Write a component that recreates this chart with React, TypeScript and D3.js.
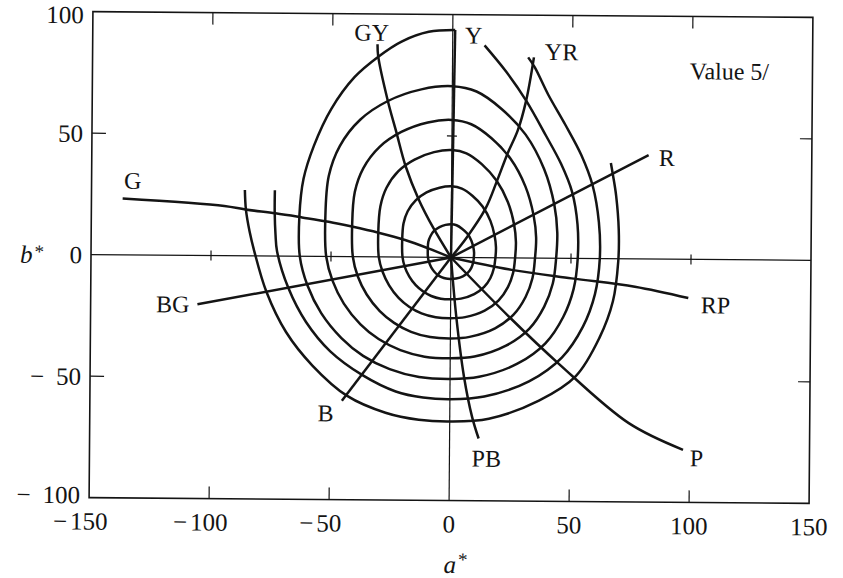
import React from "react";
import * as d3 from "d3";

type Pt = [number, number];

// ---- axis ticks ----
const xTickValues = [-150, -100, -50, 0, 50, 100, 150];
const yTickValues = [-100, -50, 0, 50, 100];
const frameTicksA = [-100, -50, 50, 100];
const frameTicksB = [-50, 50];

// ---- Munsell hue spokes (a*, b*) ----
const hueNames = ["Y", "YR", "R", "RP", "P", "PB", "B", "BG", "G", "GY"];
const spokeY: Pt[] = [[0, 0], [1, 93.6]];
const spokeYR: Pt[] = [[0, 0], [6.5, 8.3], [14.2, 20.2], [19, 31.9], [23.2, 42.9], [27.4, 52.5], [30.8, 64.8], [33.9, 82.6]];
const spokeR: Pt[] = [[0, 0], [82, 42.8]];
const spokeRP: Pt[] = [[0, 0], [25.3, -4.9], [50.3, -8.2], [76.7, -11.4], [99, -15.9]];
const spokeP: Pt[] = [[0, 0], [24.6, -24.4], [45.4, -43.5], [74.6, -67.6], [97.3, -78.4]];
const spokePB: Pt[] = [[0, 0], [2.4, -24.4], [5.8, -49], [9.3, -65.5], [12.1, -74.4]];
const spokeB: Pt[] = [[0, 0], [-45, -59.3]];
const spokeBG: Pt[] = [[0, 0], [-105.5, -20.1]];
const spokeG: Pt[] = [[0, 0], [-9.5, 3.7], [-19.2, 7.05], [-30.3, 9.96], [-41.4, 12.4], [-51.1, 14.3], [-62.2, 16], [-73.3, 17.6], [-85.8, 19.1], [-94.6, 20.5], [-137, 23.2]];
const spokeGY: Pt[] = [[0, 0], [-7.4, 12], [-13.6, 23.7], [-19.2, 37.4], [-23.3, 51.8], [-26.8, 64.1], [-31, 82.6], [-31.3, 87.5]];
const hueSpokes: Pt[][] = [spokeY, spokeYR, spokeR, spokeRP, spokeP, spokePB, spokeB, spokeBG, spokeG, spokeGY];

// ---- chroma loci (a*, b*), read counter-clockwise ----
const ring1: Pt[] = [[0, 13.7], [-2.4, 13.4], [-4.9, 12.5], [-7.1, 11], [-8.6, 8.8], [-9.5, 6.4], [-9.7, 3], [-9.6, 0], [-9.1, -2.1], [-8.2, -4.1], [-6.9, -5.9], [-5.5, -7.2], [-3.9, -8.1], [-2, -8.7], [0, -8.8], [2.2, -8.6], [5, -7.7], [7.1, -6.2], [8.5, -4.2], [9.2, -2.2], [9.5, 0], [9.6, 2.1], [9.3, 4.2], [8.4, 7.1], [6.7, 9.9], [4.5, 11.9], [2.2, 13.3]];
const ring2: Pt[] = [[0, 29.3], [-5, 28.7], [-10.4, 26.7], [-14.9, 23.4], [-18.2, 18.9], [-19.9, 13.8], [-20.4, 6.4], [-20.2, 0], [-19.2, -4.1], [-17.3, -8], [-14.6, -11.5], [-11.6, -14], [-8.1, -15.9], [-4.1, -17], [0, -17.2], [4.3, -16.9], [9.8, -15], [13.9, -12], [16.5, -8.3], [17.9, -4.3], [18.5, 0], [18.7, 4.4], [18.1, 9.1], [16.3, 15.2], [13, 21.1], [8.7, 25.5], [4.3, 28.4]];
const ring3: Pt[] = [[0, 44.2], [-7.4, 43.3], [-15.5, 40.2], [-22.2, 35.4], [-27.1, 28.5], [-29.6, 20.8], [-30.4, 9.7], [-30.1, 0], [-28.5, -6], [-25.7, -11.65], [-21.7, -16.8], [-17.3, -20.4], [-12.1, -23.1], [-6.2, -24.65], [0, -25], [6.1, -24.5], [14.2, -21.75], [20, -17.5], [23.8, -12], [25.9, -6.25], [26.7, 0], [27, 6.6], [26.2, 13.7], [23.5, 23], [18.7, 31.8], [12.5, 38.5], [6.1, 42.9]];
const ring4: Pt[] = [[0, 56.6], [-10.1, 55.5], [-21.1, 51.5], [-30.1, 45.3], [-36.8, 36.5], [-40.3, 26.6], [-41.3, 12.5], [-40.9, 0], [-38.8, -8], [-35, -15.5], [-29.5, -22.3], [-23.5, -27.1], [-16.4, -30.7], [-8.4, -32.8], [0, -33.3], [8, -32.6], [18.6, -29], [26.25, -23.3], [31.2, -16], [34, -8.3], [35, 0], [35.4, 8.5], [34.3, 17.5], [30.8, 29.4], [24.5, 40.8], [16.5, 49.2], [8, 54.9]];
const ring5: Pt[] = [[0, 70.5], [-12.9, 69.1], [-26.8, 64.2], [-38.3, 56.4], [-46.7, 45.5], [-51.2, 33.1], [-52.5, 15.5], [-52, 0], [-49.3, -9.9], [-44.5, -19.3], [-37.5, -27.8], [-29.9, -33.8], [-20.8, -38.3], [-10.7, -40.9], [0, -41.5], [10.1, -40.7], [23.2, -36.1], [32.9, -29], [39, -19.9], [42.5, -10.4], [43.8, 0], [44.2, 10.6], [42.9, 21.9], [38.5, 36.7], [30.7, 50.8], [20.6, 61.3], [10.1, 68.4]];
const ring6: Pt[] = [[1, 93.6], [-10, 92.8], [-21.3, 88.7], [-30.8, 82.5], [-40.8, 73.9], [-50.4, 60.7], [-57.5, 45.5], [-61.7, 31.9], [-63.3, 16.7], [-63, 0], [-59.7, -12], [-53.9, -23.3], [-45.4, -33.5], [-36.3, -40.75], [-25.2, -46.15], [-12.9, -49.3], [0, -50], [12.1, -49], [28, -43.5], [39.6, -35], [47, -24], [51.2, -12.5], [52.8, 0], [52.6, 14], [50.2, 27.5], [45.5, 39], [39.2, 50.4], [30.8, 64.8], [22.5, 76.5], [13.3, 87.4]];
const ring7: Pt[] = [[-73.6, 27.1], [-73.6, 18], [-73.2, 9], [-72.5, 2], [-67.7, -13], [-60.2, -27], [-50, -39], [-36.5, -48.7], [-22.6, -55.3], [-11.2, -57.7], [0, -58.3], [14.3, -57.1], [32.9, -50.7], [46.5, -40.8], [55.2, -28], [60.1, -14.6], [62, 0], [61.5, 15], [58.8, 30], [54, 42.5], [47.2, 55], [40, 67.3], [34.3, 78.5], [31.5, 82.6]];
const ring8: Pt[] = [[-86.1, 27.1], [-85.6, 19], [-84, 10], [-82, 2], [-76.8, -14.7], [-68.5, -31.2], [-57.4, -44.9], [-42.8, -57.3], [-26.8, -64.1], [-12.9, -66.9], [0, -67.5], [16.3, -66.2], [37.1, -58.6], [52.4, -48.4], [62.1, -32.6], [67.6, -17.5], [69.7, -1], [69.8, 12], [68.6, 26], [67.2, 34.5], [66.3, 39.4]];
const closedRings: Pt[][] = [ring1, ring2, ring3, ring4, ring5];
const openRings: Pt[][] = [ring6, ring7, ring8];

// label anchors (a*, b*) for hue names
const hueLabelA = [8.75, 45.4, 89.6, 110.4, 102.9, 15.4, -51.7, -115.8, -132.9, -33.75];
const hueLabelB = [91.6, 85, 41.8, -18.7, -81.7, -82.5, -64.4, -20, 30.7, 92.4];
const titleText = "Value 5/";
const titleAnchor: Pt = [115.4, 77.6];

export default function App() {
  const W = 843;
  const H = 578;
  const x = d3.scaleLinear().domain([-150, 150]).range([91, 811]);
  const y = d3.scaleLinear().domain([-100, 100]).range([500.5, 14.5]);
  const smooth = d3.line<Pt>().x((d) => x(d[0])).y((d) => y(d[1])).curve(d3.curveCatmullRom.alpha(0.5));
  const closed = d3.line<Pt>().x((d) => x(d[0])).y((d) => y(d[1])).curve(d3.curveCatmullRomClosed.alpha(0.5));
  const ink = "#141414";
  const fs = 25;
  const x0 = x(-150), x1 = x(150), yT = y(100), yB = y(-100);

  return (
    <svg width={W} height={H} style={{ position: "absolute", left: 0, top: 0, background: "#fff" }}
      fontFamily="'Liberation Serif', 'Times New Roman', serif">
      <rect x={0} y={0} width={W} height={H} fill="#fff" />
      <g transform={`rotate(0.45 ${x(0)} ${y(0)})`}>
        {/* frame */}
        <rect x={x0} y={yT} width={x1 - x0} height={yB - yT} fill="none" stroke={ink} strokeWidth={1.6} />
        {/* centre axes */}
        <line x1={x0} x2={x1} y1={y(0)} y2={y(0)} stroke={ink} strokeWidth={1.2} />
        <line x1={x(0)} x2={x(0)} y1={yT} y2={yB} stroke={ink} strokeWidth={1.2} />
        {/* ticks */}
        {frameTicksA.map((v) => (
          <g key={"ta" + v}>
            <line x1={x(v)} x2={x(v)} y1={yT} y2={yT + 12} stroke={ink} strokeWidth={1.2} />
            <line x1={x(v)} x2={x(v)} y1={yB} y2={yB - 12} stroke={ink} strokeWidth={1.2} />
            <line x1={x(v)} x2={x(v)} y1={y(0) - 5} y2={y(0) + 5} stroke={ink} strokeWidth={1.2} />
          </g>
        ))}
        {frameTicksB.map((v) => (
          <g key={"tb" + v}>
            <line x1={x0} x2={x0 + 14} y1={y(v)} y2={y(v)} stroke={ink} strokeWidth={1.2} />
            <line x1={x1} x2={x1 - 12} y1={y(v)} y2={y(v)} stroke={ink} strokeWidth={1.2} />
            <line x1={x(0) - 5} x2={x(0) + 5} y1={y(v)} y2={y(v)} stroke={ink} strokeWidth={1.2} />
          </g>
        ))}
        {/* tick labels */}
        {xTickValues.map((v) => {
          const digits = String(Math.abs(v));
          const half = digits.length * fs * 0.25;
          return (
            <g key={"xl" + v} fill={ink} fontSize={fs}>
              <text x={x(v)} y={yB + 32} textAnchor="middle">{digits}</text>
              {v < 0 && <text x={x(v) - half - 3} y={yB + 32} textAnchor="end">−</text>}
            </g>
          );
        })}
        {yTickValues.map((v) => {
          const digits = String(Math.abs(v));
          const right = x0 - 9;
          const start = right - digits.length * fs * 0.5;
          const yy = v === 100 ? y(v) + 3 : v === -100 ? y(v) - 3 : y(v);
          return (
            <g key={"yl" + v} fill={ink} fontSize={fs}>
              <text x={right} y={yy} dy="0.35em" textAnchor="end">{digits}</text>
              {v < 0 && <text x={start - 12} y={yy} dy="0.35em" textAnchor="end">−</text>}
            </g>
          );
        })}
        <text x={20} y={y(0)} dy="0.35em" fontSize={fs} fill={ink} fontStyle="italic">b<tspan fontStyle="normal" fontSize={19} dx={2} dy={-5}>*</tspan></text>
        <text x={446} y={573} fontSize={fs} fill={ink} fontStyle="italic">a<tspan fontStyle="normal" fontSize={19} dx={2} dy={-7}>*</tspan></text>
        {/* chroma loci */}
        {closedRings.map((r, i) => (
          <path key={"cr" + i} d={closed(r) || ""} fill="none" stroke={ink} strokeWidth={2.5} />
        ))}
        {openRings.map((r, i) => (
          <path key={"or" + i} d={smooth(r) || ""} fill="none" stroke={ink} strokeWidth={2.5} />
        ))}
        {/* hue spokes */}
        {hueSpokes.map((s, i) => (
          <path key={"sp" + i} d={smooth(s) || ""} fill="none" stroke={ink} strokeWidth={2.5} />
        ))}
        {/* hue labels */}
        {hueNames.map((n, i) => (
          <text key={"hn" + n} x={x(hueLabelA[i])} y={y(hueLabelB[i])} dy="0.35em" textAnchor="middle" fontSize={24} fill={ink}>{n}</text>
        ))}
        <text x={x(titleAnchor[0])} y={y(titleAnchor[1])} dy="0.35em" textAnchor="middle" fontSize={24} fill={ink}>{titleText}</text>
      </g>
    </svg>
  );
}
